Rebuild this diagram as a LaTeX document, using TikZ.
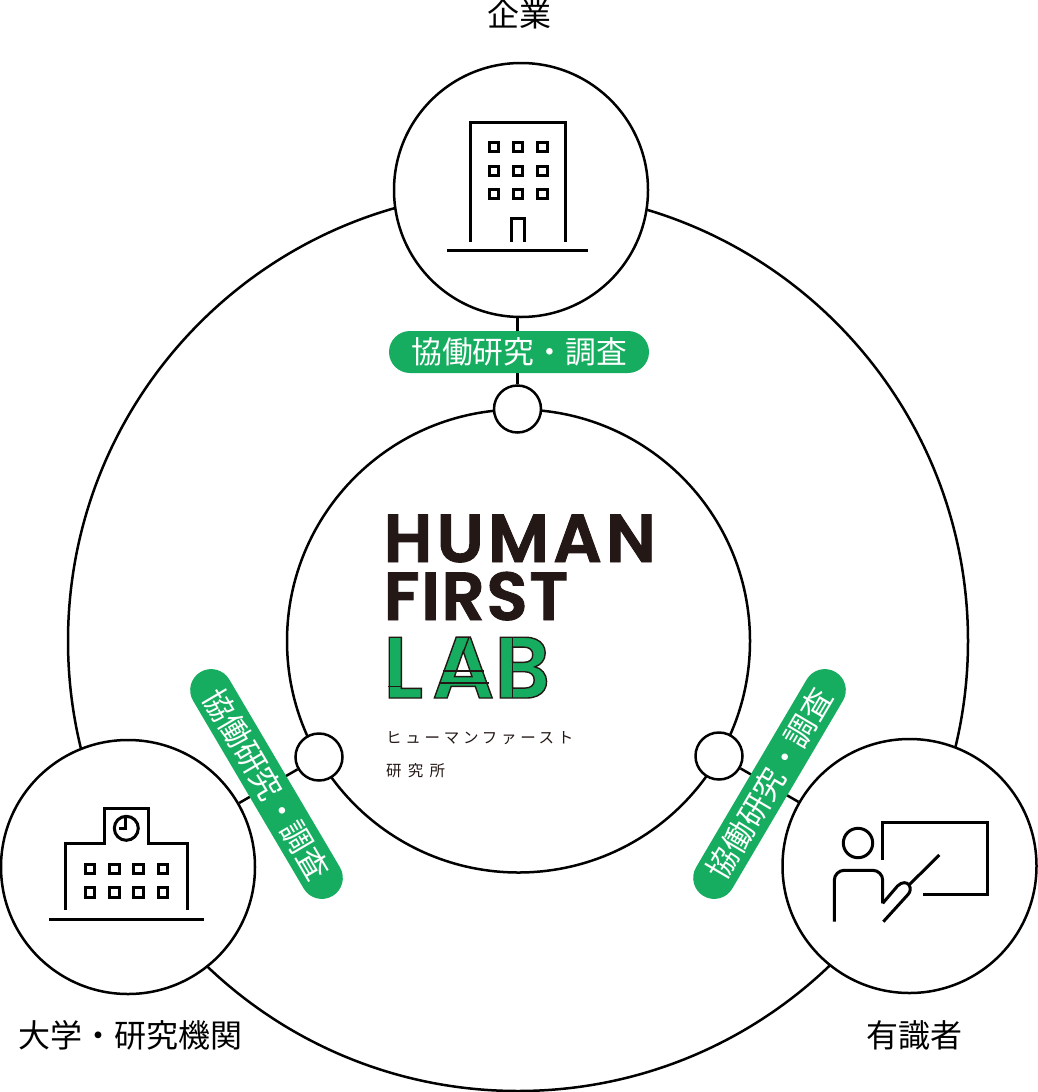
\documentclass[tikz,border=0pt]{standalone}
\usepackage{fontspec}
\usetikzlibrary{shapes.misc}
\newfontfamily\cjk{Noto Sans CJK JP}
\newfontfamily\logosemi{Poppins SemiBold}
\definecolor{labgreen}{HTML}{17AD60}
\definecolor{logoblack}{HTML}{231815}
\newcommand{\strokeword}[2]{\special{pdf:code 2 Tr #1 w 0.137 0.094 0.082 RG}#2\special{pdf:code 0 Tr}}
\tikzset{
	ring/.style={circle,draw,line width=2.5pt,fill=white,inner sep=0pt},
	member/.style={ring,minimum size=254pt},
	dot/.style={ring,minimum size=47pt},
	link/.style={line width=2.5pt},
	pill/.style={rounded rectangle,fill=labgreen,text=white,minimum width=260pt,minimum height=42pt,inner sep=0pt,font=\cjk\fontsize{30.8}{32}\selectfont},
	caption/.style={font=\cjk\fontsize{32}{34}\selectfont,inner sep=0pt},
	icon/.style={line width=3pt},
	logotext/.style={text=logoblack,inner sep=0pt,anchor=base west},
	logoline/.style={draw=logoblack,line width=1.4pt},
	kana/.style={text=logoblack,inner sep=0pt,anchor=west}
}
\begin{document}
\begin{tikzpicture}[x=1pt,y=-1pt]
	\useasboundingbox (0,0) rectangle (1038,1092);
	\node[ring,minimum size=900pt] (outer) at (518,641) {};
	\node[ring,minimum size=463pt] (lab) at (518.5,641) {};
	\node[member] (corp) at (521,190) {};
	\node[member] (univ) at (128,867) {};
	\node[member] (expert) at (909.5,866) {};
	\node[dot] (dottop) at (517.5,409) {};
	\node[dot] (dotleft) at (319,757) {};
	\node[dot] (dotright) at (719,756) {};
	\draw[link] (dottop) -- (dottop |- corp.south);
	\draw[link] (dotleft) -- (univ);
	\draw[link] (dotright) -- (expert);
	\node[pill] (pilltop) at (519,352) {協働研究・調査};
	\node[pill,rotate=-59.5] (pillleft) at (266.5,784) {協働研究・調査};
	\node[pill,rotate=59.5] (pillright) at (769.5,784) {協働研究・調査};
	\node[caption] (corpname) at (519.5,14) {企業};
	\node[caption] (univname) at (130,1035) {大学・研究機関};
	\node[caption] (expertname) at (914,1035) {有識者};
	\node[logotext,font=\logosemi\fontsize{68}{70}\selectfont\addfontfeature{LetterSpace=6}] (human) at (383.5,562) {\strokeword{0.9}{HUMAN}};
	\node[logotext,font=\logosemi\fontsize{68}{70}\selectfont\addfontfeature{LetterSpace=2}] (first) at (383.5,620) {\strokeword{0.9}{FIRST}};
	\node[logotext,text=labgreen,font=\logosemi\fontsize{87}{90}\selectfont] (labword) at (383,698) {\strokeword{1.4}{L\kern9pt A\kern0pt B}};
	\draw[logoline] (388,686.5) -- (401,686.5);
	\draw[logoline] (443,671) -- (484,671);
	\draw[logoline] (438.5,683) -- (488.5,683);
	\draw[logoline] (469,637) -- (463.5,652);
	\draw[logoline] (512.5,637) -- (512.5,698);
	\node[kana,font=\cjk\fontsize{15.5}{16}\selectfont\addfontfeature{LetterSpace=24}] (kananame) at (386,738) {ヒューマンファースト};
	\node[kana,font=\cjk\fontsize{15.5}{16}\selectfont\addfontfeature{LetterSpace=40}] (kanalab) at (386,771) {研究所};
	\draw[icon] (470,241.7) -- (470,122.7) -- (565,122.7) -- (565,241.7);
	\draw[icon] (511.3,241.7) -- (511.3,218.7) -- (524.7,218.7) -- (524.7,241.7);
	\draw[icon] (447,250.3) -- (588,250.3);
	\foreach \wx in {493.7,518,542.3}
		\foreach \wy in {147,170.7,194}
			\draw[icon] (\wx-4.7,\wy-4.7) rectangle (\wx+4.7,\wy+4.7);
	\draw[icon] (65,910) -- (65,843.3) -- (104,843.3) -- (104,808.7) -- (148.3,808.7) -- (148.3,843.3) -- (187.3,843.3) -- (187.3,910);
	\draw[icon] (126.3,828.3) circle (12);
	\draw[icon] (125,818.3) -- (125,828.3) -- (119.3,828.3);
	\draw[icon] (49,919) -- (203.7,919);
	\foreach \wx in {90,114.3,138.3,162.7}
		\foreach \wy in {868.7,892.3}
			\draw[icon] (\wx-4.7,\wy-4.7) rectangle (\wx+4.7,\wy+4.7);
	\draw[icon] (858,843) circle (14.7);
	\draw[icon,rounded corners=10pt] (834.3,921.7) -- (834.3,870.3) -- (882.7,870.3) -- (882.7,903.3);
	\draw[icon] (882.7,903.3) -- (897.5,886) .. controls (902,881.5) and (907,882) .. (909,885) .. controls (911,888) and (910.5,892) .. (908,894.5) -- (883.3,921.7);
	\draw[icon] (909.5,884.5) -- (939.3,855);
	\draw[icon] (882,860) -- (882,822.3) -- (987,822.3) -- (987,894.3) -- (923.3,894.3);
\end{tikzpicture}
\end{document}
